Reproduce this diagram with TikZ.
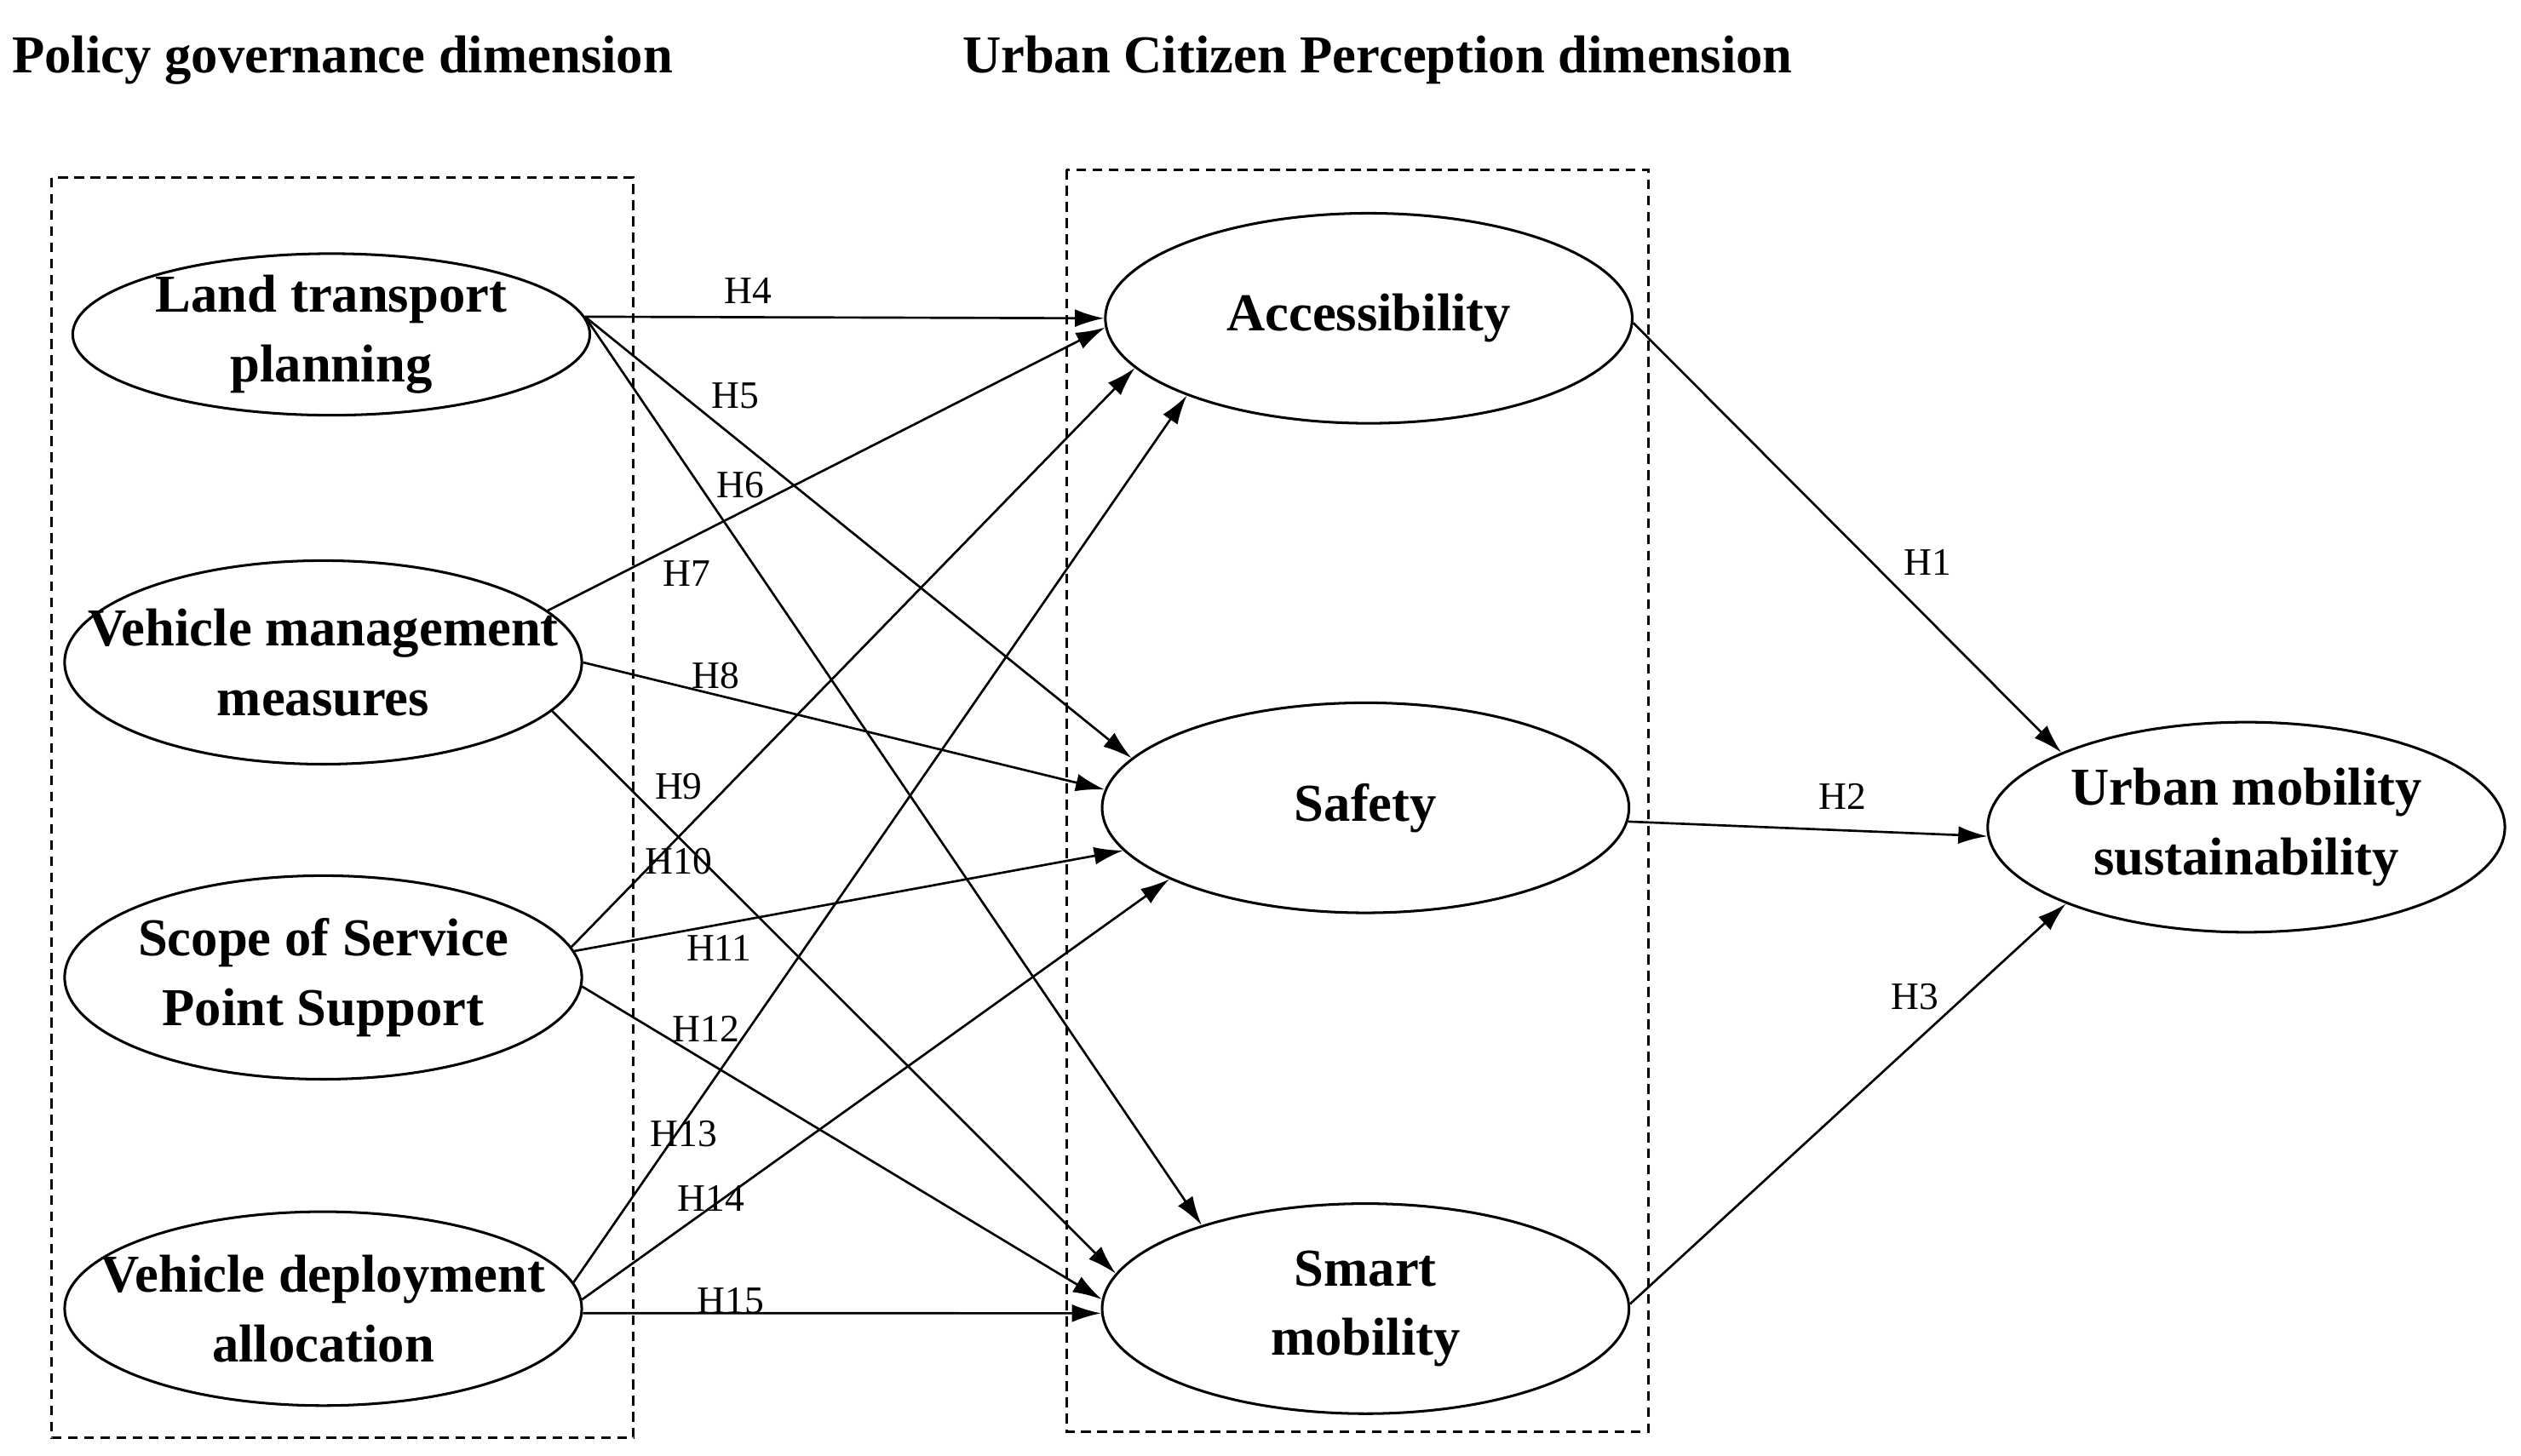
\documentclass[tikz,border=0pt]{standalone}
\usepackage{fontspec}
\setmainfont{Liberation Serif}
\usetikzlibrary{arrows.meta,shapes.geometric}
\begin{document}
\begin{tikzpicture}[x=1pt,y=-1pt,
 el/.style={draw,line width=1.6pt,ellipse,font=\fontsize{33}{43}\selectfont\bfseries,align=center,inner xsep=-45pt,inner ysep=-4pt},
 box/.style={draw,line width=1.6pt,dash pattern=on 6pt off 4pt},
 ar/.style={line width=1.4pt,-{Latex[length=18pt,width=11pt]}},
 lb/.style={font=\fontsize{24}{28}\selectfont},
 ttl/.style={font=\fontsize{33}{38}\selectfont\bfseries,anchor=west}]
\useasboundingbox (0,0) rectangle (1560,901);
\node[ttl] (t1) at (4,37) {Policy governance dimension};
\node[ttl] (t2) at (592,37) {Urban Citizen Perception dimension};
\draw[box] (32,110) rectangle (392,890);
\draw[box] (660,105) rectangle (1020,886);
\node[el,minimum width=320pt,minimum height=100pt] (lt) at (205,207) {Land transport\\planning};
\node[el,minimum width=320pt,minimum height=126pt] (vm) at (200,410) {Vehicle management\\measures};
\node[el,minimum width=320pt,minimum height=126pt] (sc) at (200,605) {Scope of Service\\Point Support};
\node[el,minimum width=320pt,minimum height=120pt] (vd) at (200,810) {Vehicle deployment\\allocation};
\node[el,minimum width=326pt,minimum height=130pt] (ac) at (847,197) {Accessibility};
\node[el,minimum width=326pt,minimum height=130pt] (sa) at (845,500) {Safety};
\node[el,minimum width=326pt,minimum height=130pt] (sm) at (845,810) {Smart\\mobility};
\node[el,minimum width=320pt,minimum height=130pt] (um) at (1390,512) {Urban mobility\\sustainability};
\draw[ar] (lt.4) -- (ac.180);
\draw[ar] (lt.4) -- (sa.168);
\draw[ar] (lt.4) -- (sm.153);
\draw[ar] (vm.13) -- (ac.182);
\draw[ar] (vm.0) -- (sa.176);
\draw[ar] (vm.-12) -- (sm.172);
\draw[ar] (sc.7) -- (ac.192);
\draw[ar] (sc.6) -- (sa.190);
\draw[ar] (sc.-2) -- (sm.178);
\draw[ar] (vd.6) -- (ac.203);
\draw[ar] (vd.2) -- (sa.200);
\draw[ar] (vd.-1) -- (sm.181);
\draw[ar] (ac.-1) -- (um.158);
\draw[ar] (sa.-3) -- (um.182);
\draw[ar] (sm.1) -- (um.203);
\node[lb] (h4) at (463,180) {H4};
\node[lb] (h5) at (455,245) {H5};
\node[lb] (h6) at (458,300) {H6};
\node[lb] (h7) at (425,355) {H7};
\node[lb] (h8) at (443,418) {H8};
\node[lb] (h9) at (420,487) {H9};
\node[lb] (h10) at (420,533) {H10};
\node[lb] (h11) at (445,587) {H11};
\node[lb] (h12) at (437,637) {H12};
\node[lb] (h13) at (423,702) {H13};
\node[lb] (h14) at (440,742) {H14};
\node[lb] (h15) at (452,805) {H15};
\node[lb] (h1) at (1193,348) {H1};
\node[lb] (h2) at (1140,493) {H2};
\node[lb] (h3) at (1185,617) {H3};
\end{tikzpicture}
\end{document}
